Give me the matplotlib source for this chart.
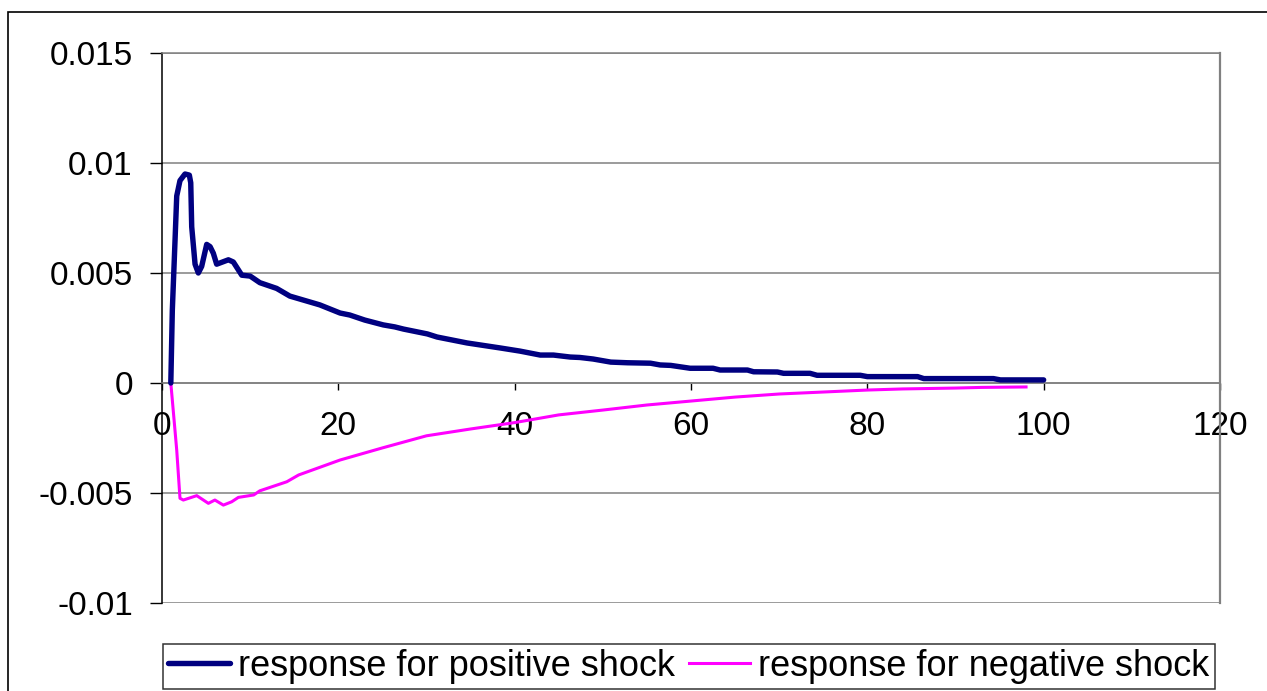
import matplotlib
matplotlib.use("Agg")
import matplotlib.pyplot as plt
from matplotlib.patches import Rectangle

plt.rcParams["font.family"] = ["Liberation Sans", "DejaVu Sans"]

# --- data ---
x_pos = [1.0, 1.17, 1.48, 1.67, 2.04, 2.61, 3.1, 3.26, 3.37, 3.75, 4.12, 4.5,
         5.07, 5.45, 5.82, 6.2, 7.53, 8.09, 9.05, 10.0, 11.1, 13.0, 14.5, 17.9,
         20.2, 21.3, 23.0, 25.1, 26.4, 27.4, 30.1, 31.2, 34.6, 38.4, 40.6, 42.9,
         44.4, 46.3, 47.4, 48.9, 50.9, 52.8, 55.4, 56.5, 57.7, 59.9, 62.5, 63.3,
         66.4, 67.1, 69.8, 70.5, 73.5, 74.3, 79.2, 80.0, 85.7, 86.4, 94.3, 95.1,
         100.0]
y_pos = [0.0, 0.0033, 0.0065, 0.0085, 0.0092, 0.0095, 0.00945, 0.0091, 0.0071,
         0.0054, 0.0050, 0.0053, 0.0063, 0.0062, 0.0059, 0.0054, 0.0056, 0.0055,
         0.0049, 0.00486, 0.00456, 0.0043, 0.00395, 0.00355, 0.00318, 0.00309,
         0.00286, 0.00264, 0.00255, 0.00245, 0.00223, 0.00209, 0.00182, 0.00159,
         0.00145, 0.00127, 0.00127, 0.00118, 0.00116, 0.00109, 0.00095, 0.00092,
         0.0009, 0.00082, 0.0008, 0.00067, 0.00067, 0.00059, 0.00059, 0.00051,
         0.0005, 0.00044, 0.00044, 0.00035, 0.00035, 0.00029, 0.00029, 0.0002,
         0.0002, 0.00014, 0.00014]

x_neg = [1.0, 1.67, 2.04, 2.42, 3.94, 5.26, 6.0, 6.96, 7.9, 8.66, 10.4, 11.1,
         14.15, 15.5, 20.2, 25.0, 30.0, 35.0, 40.0, 45.0, 50.0, 55.0, 60.0,
         65.0, 70.0, 75.0, 80.0, 84.0, 90.0, 93.0, 98.0]
y_neg = [0.0, -0.00305, -0.00524, -0.00532, -0.00512, -0.00547, -0.00532,
         -0.00555, -0.0054, -0.0052, -0.00509, -0.0049, -0.00449, -0.00418,
         -0.0035, -0.00295, -0.0024, -0.00209, -0.0018, -0.00145, -0.00123,
         -0.001, -0.00082, -0.00064, -0.0005, -0.00041, -0.00032, -0.00027,
         -0.00023, -0.0002, -0.00018]

x_ticks = [0, 20, 40, 60, 80, 100, 120]
y_ticks = [-0.01, -0.005, 0, 0.005, 0.01, 0.015]
y_tick_labels = ["-0.01", "-0.005", "0", "0.005", "0.01", "0.015"]
labels = ["response for positive shock", "response for negative shock"]

GRID = "#808080"

fig = plt.figure(figsize=(12.67, 6.91), dpi=100)
ax = fig.add_axes([162 / 1267, 1 - 603 / 691, 1058 / 1267, 550 / 691])

ax.plot(x_pos, y_pos, color="#000080", linewidth=3.9, label=labels[0],
        solid_joinstyle="round", solid_capstyle="round", zorder=4)
ax.plot(x_neg, y_neg, color="#FF00FF", linewidth=2.2, label=labels[1],
        solid_joinstyle="round", zorder=3)

ax.set_xlim(0, 120)
ax.set_ylim(-0.01, 0.015)
ax.set_xticks(x_ticks)
ax.set_yticks(y_ticks)
ax.set_yticklabels(y_tick_labels)

ax.grid(True, axis="y", color=GRID, linewidth=1.1)
ax.set_axisbelow(True)

ax.spines["bottom"].set_position(("data", 0))
ax.spines["bottom"].set_color(GRID)
ax.spines["bottom"].set_linewidth(1.1)
ax.spines["top"].set_color(GRID)
ax.spines["right"].set_color(GRID)
ax.spines["top"].set_linewidth(1.1)
ax.spines["right"].set_linewidth(1.6)
ax.spines["left"].set_color("black")
ax.spines["left"].set_linewidth(1.1)

ax.tick_params(axis="x", direction="out", length=5, width=1, color="black",
               pad=15, labelsize=24)
ax.tick_params(axis="y", direction="out", length=9, width=1, color="black",
               pad=12, labelsize=24)

leg = fig.legend(loc="center", bbox_to_anchor=(689 / 1267, 1 - 666.5 / 691),
                 ncol=2, fontsize=26, frameon=True, fancybox=False,
                 handlelength=1.7, handletextpad=0.22, columnspacing=0.4,
                 borderpad=0.14, borderaxespad=0)
leg.get_frame().set_edgecolor("black")
leg.get_frame().set_linewidth(1.1)

# outer chart border (cut off at right and bottom in the reference)
fig.patches.append(Rectangle((8 / 1267, -0.5), 2, 0.5 + 1 - 12 / 691,
                             transform=fig.transFigure, fill=False,
                             edgecolor="black", linewidth=1.2))

fig.savefig("out.png", dpi=100)
